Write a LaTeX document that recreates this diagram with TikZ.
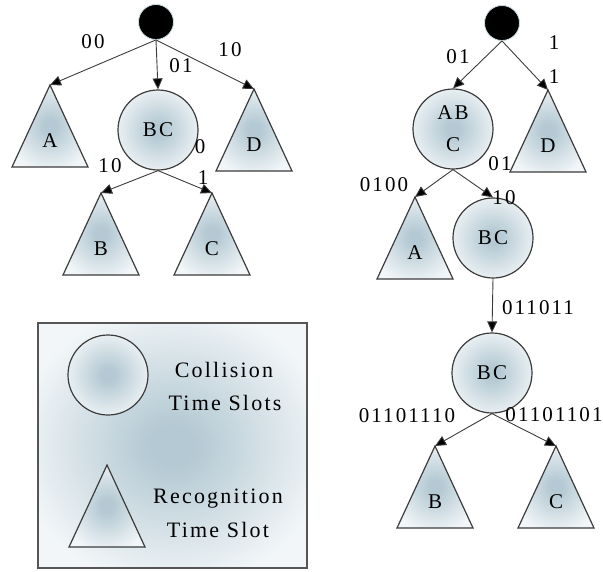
\documentclass[tikz,border=0pt]{standalone}
\usepackage{fontspec}
\setmainfont{Liberation Serif}[LetterSpace=10]
\usetikzlibrary{arrows.meta,calc}
\definecolor{slotin}{RGB}{180,201,211}
\definecolor{slotout}{RGB}{242,246,248}
\definecolor{inkgray}{RGB}{60,60,60}
\definecolor{frame}{RGB}{85,85,85}

% soft glow from the centre of a shape out to its rim
\pgfdeclareradialshading{slotglow}{\pgfpoint{0bp}{0bp}}{%
  color(0bp)=(slotin); color(4bp)=(slotin);
  color(29bp)=(slotout); color(50bp)=(slotout)}

% recognition slot: triangle hanging from its apex coordinate
\newcommand\recslot[4]{%
  \coordinate (#1) at (#2,#3);
  \path[slotpath] (#1) -- ++(-38,82) -- ++(76,0) -- cycle;
  \node[txt] (#1-lbl) at ($(#1)+(0,56)$) {#4};
}

\begin{document}
\begin{tikzpicture}[x=1pt,y=-1pt,
  txt/.style={font=\fontsize{21}{25}\selectfont, inner sep=0pt},
  legtxt/.style={font=\fontsize{22}{26}\selectfont, inner sep=0pt, anchor=base},
  coll/.style={circle, draw=inkgray, line width=1.2pt, shading=slotglow,
    minimum size=80pt, inner sep=0pt, font=\fontsize{21}{25}\selectfont},
  rootdot/.style={circle, fill=black, draw={rgb,255:red,205;green,222;blue,228},
    line width=0.8pt, minimum size=35pt, inner sep=0pt},
  slotpath/.style={draw=inkgray, line width=1.2pt, shading=slotglow},
  link/.style={draw=inkgray, line width=0.9pt, -{Triangle[length=11pt,width=10pt,fill=black]}},
]
\useasboundingbox (0,0) rectangle (603,571);

% ---------------- left tree ----------------
\node[rootdot] (rL) at (156,22) {};
\node[coll] (bcL) at (158,130) {BC};
\recslot{aL}{50}{85}{A}
\recslot{dL}{254}{89}{D}
\recslot{bL}{101}{193}{B}
\recslot{cL}{212}{193}{C}

\draw[link] (rL.south) -- (aL);
\draw[link] (rL.south) -- (bcL.north);
\draw[link] (rL.south) -- (dL);
\draw[link] (bcL.south) -- (bL);
\draw[link] (bcL.south) -- (cL);

\node[txt] (l00) at (93,42) {00};
\node[txt] (l01) at (181,66) {01};
\node[txt] (l10) at (230,50) {10};
\node[txt] (l10b) at (110,166) {10};
\node[txt] (l0) at (200,147) {0};
\node[txt] (l1) at (203,178) {1};

% ---------------- right tree ----------------
\node[rootdot] (rR) at (502,23) {};
\node[coll, align=center] (abc) at (453,129) {AB\\[7pt]C};
\recslot{dR}{548}{90}{D}
\recslot{aR}{415}{197}{A}
\node[coll] (bc2) at (493,238) {BC};
\node[coll] (bc3) at (492,373) {BC};
\recslot{bR}{435}{446}{B}
\recslot{cR}{556}{446}{C}

\draw[link] (rR.south) -- (abc.north);
\draw[link] (rR.south) -- (dR);
\draw[link] (abc.south) -- (aR);
\draw[link] (abc.south) -- (bc2.north);
\draw[link] (bc2.south) -- (bc3.north);
\draw[link] (bc3.south) -- (bR);
\draw[link] (bc3.south) -- (cR);

\node[txt] (r01) at (458,57) {01};
\node[txt] (r1a) at (554,43) {1};
\node[txt] (r1b) at (554,77) {1};
\node[txt] (r0100) at (384,185) {0100};
\node[txt] (r01b) at (500,164) {01};
\node[txt] (r10) at (504,198) {10};
\node[txt] (r011011) at (538,308) {011011};
\node[txt] (r0110a) at (407,416) {01101110};
\node[txt] (r0110b) at (554,415) {01101101};

% ---------------- legend ----------------
\path[draw=frame, line width=2pt, shading=slotglow]
  (38,323) rectangle (307,568);
\node[coll, minimum size=80pt] (legc) at (108,375) {};
\recslot{legt}{107}{465}{}
\node[legtxt] (lc1) at (224,377) {Collision};
\node[legtxt] (lc2) at (225,410) {Time Slots};
\node[legtxt] (lr1) at (218,503) {Recognition};
\node[legtxt] (lr2) at (218,537) {Time Slot};
\end{tikzpicture}
\end{document}
